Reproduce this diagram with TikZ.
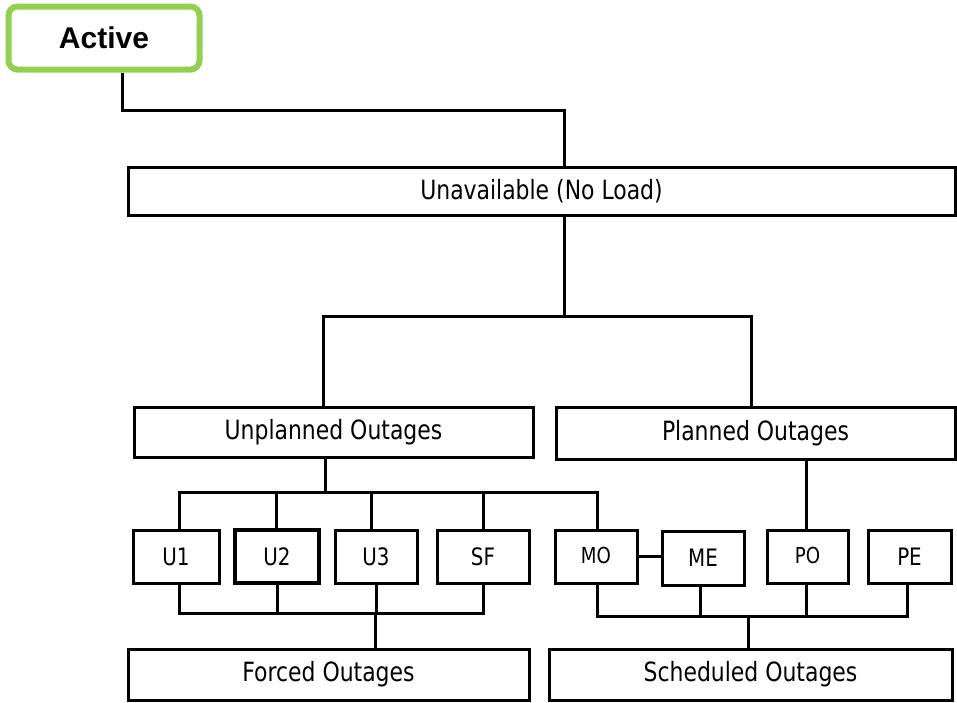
\documentclass[tikz,border=0pt]{standalone}
\usepackage{fontspec}
\setmainfont{DejaVu Sans Condensed}[FakeStretch=0.92]
\newfontfamily\activefont{Liberation Sans}
\usetikzlibrary{calc}
\definecolor{activegreen}{HTML}{92D050}
\tikzset{
	box/.style={draw, line width=3pt, inner sep=0pt, font=\fontsize{26.5}{30}\selectfont},
	smallbox/.style={box, font=\fontsize{24}{27}\selectfont},
	wire/.style={line width=3pt, line join=miter}
}

\begin{document}
\begin{tikzpicture}[x=1pt, y=-1pt]
		%%%%% START %%%%%
		\useasboundingbox (0,0) rectangle (957,702);
		
		\node[draw=activegreen, line width=6pt, rounded corners=9pt, minimum width=191pt, minimum height=63pt, font=\activefont\bfseries\fontsize{30}{34}\selectfont] (active) at (104,38) {Active};
		
		\node[box, minimum width=827pt, minimum height=48pt] (unavail) at (541.5,191) {Unavailable (No Load)};
		
		\node[box, minimum width=399pt, minimum height=50pt] (unplanned) at (333.5,432) {Unplanned Outages};
		\node[box, minimum width=399pt, minimum height=52pt] (planned) at (755.5,433) {Planned Outages};
		
		\node[smallbox, minimum width=86pt, minimum height=53pt] (u1) at (176,556.5) {U1};
		\node[smallbox, minimum width=84pt, minimum height=53pt, line width=3.8pt] (u2) at (277,556.5) {U2};
		\node[smallbox, minimum width=82pt, minimum height=53pt] (u3) at (376,556.5) {U3};
		\node[smallbox, minimum width=92pt, minimum height=53pt] (sf) at (483,556.5) {SF};
		\node[smallbox, minimum width=82pt, minimum height=53pt, font=\fontsize{22}{25}\selectfont] (mo) at (596,556.5) {\raisebox{2pt}{MO}};
		\node[smallbox, minimum width=82pt, minimum height=54pt] (me) at (703,558) {ME};
		\node[smallbox, minimum width=81pt, minimum height=53pt, font=\fontsize{22}{25}\selectfont] (po) at (807.5,556.5) {\raisebox{3pt}{PO}};
		\node[smallbox, minimum width=83pt, minimum height=53pt] (pe) at (909.5,556.5) {PE};
		
		\node[box, minimum width=401pt, minimum height=51pt] (forced) at (328.5,674.5) {Forced Outages};
		\node[box, minimum width=403pt, minimum height=51pt] (sched) at (750.5,674.5) {Scheduled Outages};
		
		% junctions
		\coordinate (j1) at (564,110);
		\coordinate (j2) at (564,316);
		\coordinate (b2l) at (323,316);
		\coordinate (b2r) at (751,316);
		\coordinate (b3) at (325,492);
		\coordinate (b4) at (375,613);
		\coordinate (b5) at (748,616);
		
		\draw[wire] ([xshift=18pt]active.south) |- (j1) -- (j1 |- unavail.north);
		
		\draw[wire] (j2 |- unavail.south) -- (j2);
		\draw[wire] (b2l |- unplanned.north) -- (b2l) -- (b2r) -- (b2r |- planned.north);
		
		\draw[wire] (b3 |- unplanned.south) -- (b3);
		\draw[wire] ([xshift=3pt]u1.north) |- (b3) -| ([xshift=1pt]mo.north);
		\draw[wire] ([xshift=-1pt]u2.north) -- ([xshift=-1pt]u2.north |- b3);
		\draw[wire] ([xshift=-5pt]u3.north) -- ([xshift=-5pt]u3.north |- b3);
		\draw[wire] (sf.north) -- (sf.north |- b3);
		
		\draw[wire] (mo.east) -- (mo.east -| me.west);
		\draw[wire] ([xshift=-1.5pt]po.north) -- ([xshift=-1.5pt]po.north |- planned.south);
		
		\draw[wire] ([xshift=3pt]u1.south) |- (b4) -| (sf.south);
		\draw[wire] (u2.south) -- (u2.south |- b4);
		\draw[wire] (u3.south |- b4) -- (u3.south);
		\draw[wire] (b4) -- (b4 |- forced.north);
		
		\draw[wire] ([xshift=1pt]mo.south) |- (b5) -| ([xshift=-2.5pt]pe.south);
		\draw[wire] ([xshift=-3pt]me.south) -- ([xshift=-3pt]me.south |- b5);
		\draw[wire] ([xshift=-1.5pt]po.south) -- ([xshift=-1.5pt]po.south |- b5);
		\draw[wire] (b5) -- (b5 |- sched.north);
		
		%%%%% END %%%%%
	\end{tikzpicture}
\end{document}
